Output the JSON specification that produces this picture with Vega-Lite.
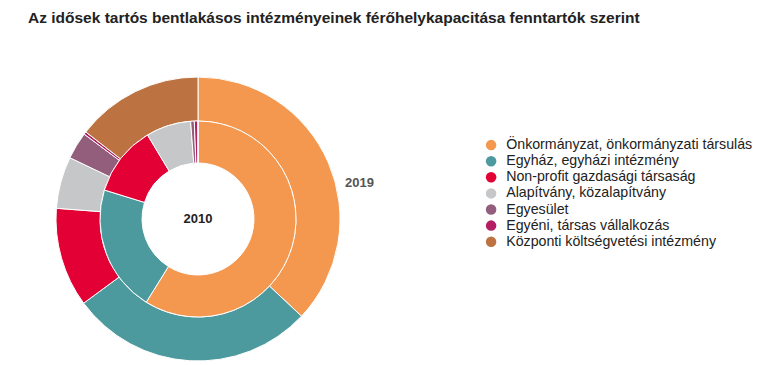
{
  "$schema": "https://vega.github.io/schema/vega-lite/v6.json",
  "width": 396,
  "height": 358,
  "autosize": {"type": "none"},
  "padding": {"left": 0, "top": 40, "right": 365, "bottom": 0},
  "background": "white",
  "title": {
    "text": "Az idősek tartós bentlakásos intézményeinek férőhelykapacitása fenntartók szerint",
    "anchor": "start",
    "frame": "group",
    "dx": 28,
    "offset": 14,
    "font": "Liberation Sans",
    "fontSize": 15.5,
    "fontWeight": "bold",
    "color": "#222222",
    "limit": 740
  },
  "config": {"view": {"stroke": null}},
  "data": {
    "values": [
      {"ev": "2010", "i": 1, "fenntarto": "Önkormányzat, önkormányzati társulás", "ertek": 58.8},
      {"ev": "2010", "i": 2, "fenntarto": "Egyház, egyházi intézmény", "ertek": 20.9},
      {"ev": "2010", "i": 3, "fenntarto": "Non-profit gazdasági társaság", "ertek": 11.6},
      {"ev": "2010", "i": 4, "fenntarto": "Alapítvány, közalapítvány", "ertek": 7.4},
      {"ev": "2010", "i": 5, "fenntarto": "Egyesület", "ertek": 0.6},
      {"ev": "2010", "i": 6, "fenntarto": "Egyéni, társas vállalkozás", "ertek": 0.6},
      {"ev": "2010", "i": 7, "fenntarto": "Központi költségvetési intézmény", "ertek": 0},
      {"ev": "2019", "i": 1, "fenntarto": "Önkormányzat, önkormányzati társulás", "ertek": 37.0},
      {"ev": "2019", "i": 2, "fenntarto": "Egyház, egyházi intézmény", "ertek": 27.9},
      {"ev": "2019", "i": 3, "fenntarto": "Non-profit gazdasági társaság", "ertek": 11.3},
      {"ev": "2019", "i": 4, "fenntarto": "Alapítvány, közalapítvány", "ertek": 5.9},
      {"ev": "2019", "i": 5, "fenntarto": "Egyesület", "ertek": 3.1},
      {"ev": "2019", "i": 6, "fenntarto": "Egyéni, társas vállalkozás", "ertek": 0.3},
      {"ev": "2019", "i": 7, "fenntarto": "Központi költségvetési intézmény", "ertek": 14.5}
    ]
  },
  "layer": [
    {
      "transform": [{"filter": "datum.ev === '2019'"}],
      "mark": {"type": "arc", "radius": 142, "radius2": 98, "stroke": "white", "strokeWidth": 1},
      "encoding": {
        "theta": {"field": "ertek", "type": "quantitative", "stack": "normalize"},
        "order": {"field": "i", "type": "quantitative"},
        "color": {
          "field": "fenntarto",
          "type": "nominal",
          "scale": {
            "domain": [
              "Önkormányzat, önkormányzati társulás",
              "Egyház, egyházi intézmény",
              "Non-profit gazdasági társaság",
              "Alapítvány, közalapítvány",
              "Egyesület",
              "Egyéni, társas vállalkozás",
              "Központi költségvetési intézmény"
            ],
            "range": ["#F4974F", "#4D9A9E", "#E30035", "#C6C7C9", "#935E7B", "#B41F64", "#BC7341"]
          },
          "legend": {
            "title": null,
            "orient": "none",
            "legendX": 484,
            "legendY": 98,
            "symbolType": "circle",
            "symbolSize": 110,
            "symbolStrokeWidth": 0,
            "labelFont": "Liberation Sans",
            "labelFontSize": 14.2,
            "labelColor": "#222222",
            "labelOffset": 8,
            "rowPadding": 1.1,
            "labelLimit": 300
          }
        }
      }
    },
    {
      "transform": [{"filter": "datum.ev === '2010'"}],
      "mark": {"type": "arc", "radius": 98, "radius2": 56, "stroke": "white", "strokeWidth": 1},
      "encoding": {
        "theta": {"field": "ertek", "type": "quantitative", "stack": "normalize"},
        "order": {"field": "i", "type": "quantitative"},
        "color": {"field": "fenntarto", "type": "nominal"}
      }
    },
    {
      "transform": [{"filter": "datum.ev === '2010' && datum.i === 1"}],
      "mark": {"type": "text", "font": "Liberation Sans", "fontSize": 13, "fontWeight": "bold", "color": "#222222", "align": "center", "baseline": "middle"},
      "encoding": {"text": {"field": "ev", "type": "nominal"}}
    },
    {
      "transform": [{"filter": "datum.ev === '2019' && datum.i === 1"}],
      "mark": {"type": "text", "font": "Liberation Sans", "fontSize": 13, "fontWeight": "bold", "color": "#555555", "align": "center", "baseline": "middle", "radius": 165.5, "theta": 1.3514},
      "encoding": {"text": {"field": "ev", "type": "nominal"}}
    }
  ]
}
